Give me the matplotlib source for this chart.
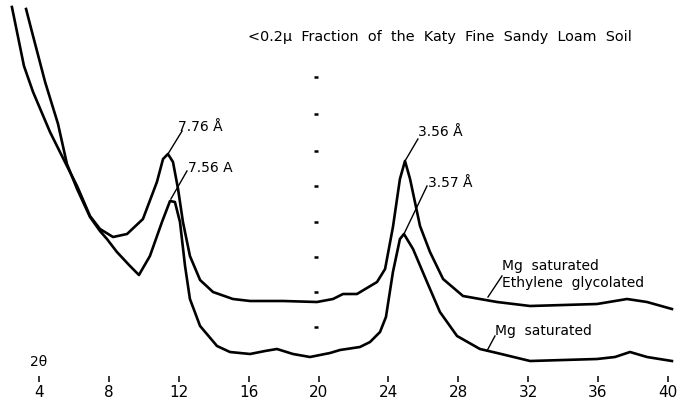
import matplotlib
matplotlib.use("Agg")
import matplotlib.pyplot as plt

# 2-theta (degrees) and relative intensity
eg_2theta = [2.45, 3.14, 3.66, 4.63, 5.60, 6.18, 6.92, 7.49, 8.24, 9.04, 9.95, 10.75,
             11.10, 11.38, 11.67, 11.96, 12.24, 12.64, 13.22, 13.96, 15.10, 16.08,
             17.97, 19.91, 20.83, 21.40, 22.20, 23.35, 23.81, 24.26, 24.66, 24.95,
             25.24, 25.81, 26.38, 27.13, 28.27, 29.24, 30.22, 32.11, 35.94, 37.66,
             38.80, 40.23]
eg_int = [372, 313, 287, 247, 213, 193, 163, 150, 142, 145, 160, 197,
          220, 225, 217, 190, 157, 123, 99, 87, 80, 78,
          78, 77, 80, 85, 85, 97, 110, 152, 200, 218,
          200, 153, 127, 100, 83, 80, 77, 73, 75, 80,
          77, 70]

mg_2theta = [3.26, 3.60, 4.35, 5.09, 5.60, 6.18, 6.92, 7.49, 7.89, 8.46, 9.21, 9.72,
             10.35, 11.04, 11.50, 11.78, 12.07, 12.36, 12.64, 13.22, 14.19, 14.93,
             16.08, 16.94, 17.62, 18.54, 19.51, 20.66, 21.23, 22.37, 22.95, 23.52,
             23.86, 24.26, 24.66, 24.89, 25.41, 26.21, 26.95, 27.93, 29.24, 30.22,
             32.11, 35.94, 36.97, 37.83, 38.80, 40.23]
mg_int = [370, 347, 297, 255, 215, 190, 162, 148, 140, 127, 113, 104,
          123, 157, 178, 177, 157, 113, 80, 53, 33, 27,
          25, 28, 30, 25, 22, 26, 29, 32, 37, 47,
          62, 107, 140, 145, 130, 97, 67, 43, 30, 26,
          18, 20, 22, 27, 22, 18]

# chart-recorder marks near 20 degrees
mark_2theta = 19.86
mark_int = [302, 265, 228, 193, 157, 122, 87, 52]

tick_vals = [4, 8, 12, 16, 20, 24, 28, 32, 36, 40]
tick_labels = [str(v) for v in tick_vals]

title = "<0.2\u03bc  Fraction  of  the  Katy  Fine  Sandy  Loam  Soil"

fig = plt.figure(figsize=(6.78, 4.02), dpi=100)
ax = fig.add_axes([0, 22 / 402, 1, 380 / 402])
ax.set_xlim(1.768, 40.577)
ax.set_ylim(0, 380)
for s in ax.spines.values():
    s.set_visible(False)
ax.set_yticks([])
ax.set_xticks(tick_vals)
ax.set_xticklabels(tick_labels)
ax.tick_params(axis="x", direction="inout", length=4.5, width=1.1, pad=1.5,
               labelsize=11, color="black")

lw = 1.9
ax.plot(eg_2theta, eg_int, color="black", lw=lw, solid_joinstyle="round")
ax.plot(mg_2theta, mg_int, color="black", lw=lw, solid_joinstyle="round")
ax.plot([mark_2theta] * len(mark_int), mark_int, ls="none", marker="_",
        markersize=3.5, mew=1.8, color="black")

fs = 10
tk = dict(color="black", fontsize=fs)
# peak labels with leader lines
ax.plot([11.38, 12.19], [225, 248], color="black", lw=1)
ax.text(11.96, 253, "7.76 \u00c5", ha="left", va="center", **tk)
ax.plot([11.55, 12.47], [180, 208], color="black", lw=1)
ax.text(12.53, 212, "7.56 A", ha="left", va="center", **tk)
ax.plot([24.95, 25.69], [218, 240], color="black", lw=1)
ax.text(25.69, 248, "3.56 \u00c5", ha="left", va="center", **tk)
ax.plot([24.89, 26.21], [145, 193], color="black", lw=1)
ax.text(26.27, 197, "3.57 \u00c5", ha="left", va="center", **tk)

ax.plot([29.70, 30.50], [82, 103], color="black", lw=1)
ax.text(30.50, 114, "Mg  saturated", ha="left", va="center", **tk)
ax.text(30.50, 97, "Ethylene  glycolated", ha="left", va="center", **tk)
ax.plot([29.64, 30.10], [28, 43], color="black", lw=1)
ax.text(30.10, 49, "Mg  saturated", ha="left", va="center", **tk)

ax.text(4.0, 18, "2\u03b8", ha="center", va="center", **tk)
ax.text(15.96, 343, title, ha="left", va="center", color="black", fontsize=10.4)

fig.savefig("out.png", dpi=100)
